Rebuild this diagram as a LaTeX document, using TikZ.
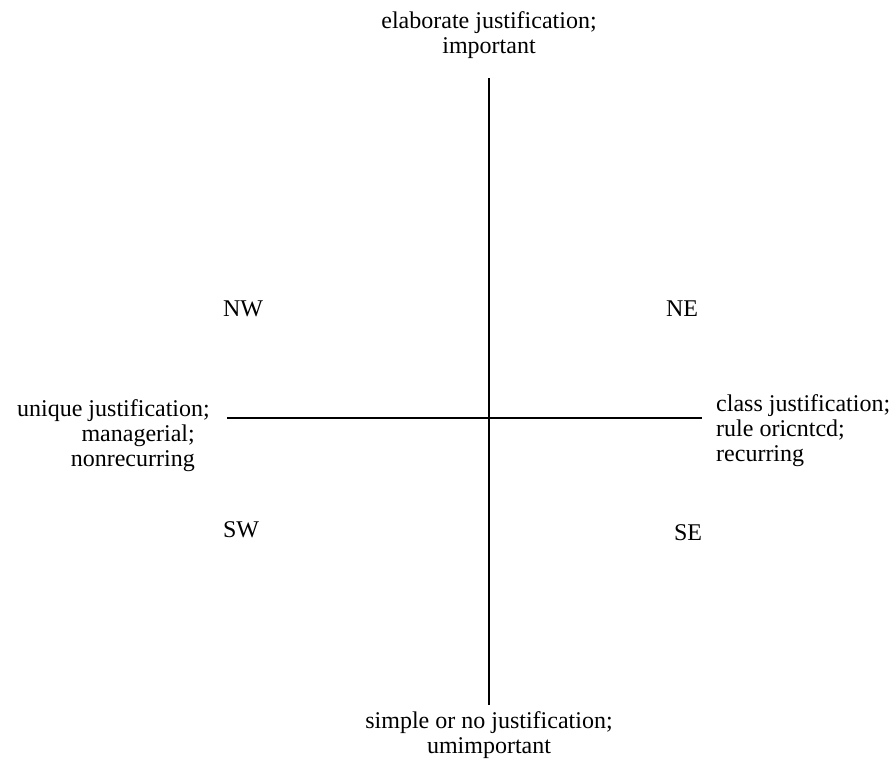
\documentclass[tikz,border=0pt]{standalone}
\usepackage{fontspec}
\setmainfont{Liberation Serif}
\begin{document}
\begin{tikzpicture}[x=1pt,y=-1pt,
  lbl/.style={inner sep=0pt,font={\fontsize{24}{25}\selectfont}},
  quad/.style={inner sep=0pt,anchor=base,font={\fontsize{24}{25}\selectfont}},
  axis/.style={line width=1.6pt,black}]
\useasboundingbox (0,0) rectangle (891,764);
% axis end points
\coordinate (N) at (489,78);
\coordinate (S) at (489,705);
\coordinate (W) at (227,418);
\coordinate (E) at (702,418);
\draw[axis] (N) -- (S);
\draw[axis] (W) -- (E);
% pole labels
\node[lbl,anchor=north,align=center] (top) at (489,11.6) {elaborate justification;\\important};
\node[lbl,anchor=north,align=center] (bottom) at (489,711.6) {simple or no justification;\\umimportant};
\node[lbl,anchor=north east,align=right] (left) at (195,399.6) {unique justification;\hspace*{-15pt}\\managerial;\\nonrecurring};
\node[lbl,anchor=north west,align=left] (right) at (716,394.6) {class justification;\\rule oricntcd;\\recurring};
% quadrant labels
\node[quad] (nw) at (243,316) {NW};
\node[quad] (ne) at (682,316) {NE};
\node[quad] (sw) at (241,537) {SW};
\node[quad] (se) at (688,540) {SE};
\end{tikzpicture}
\end{document}
